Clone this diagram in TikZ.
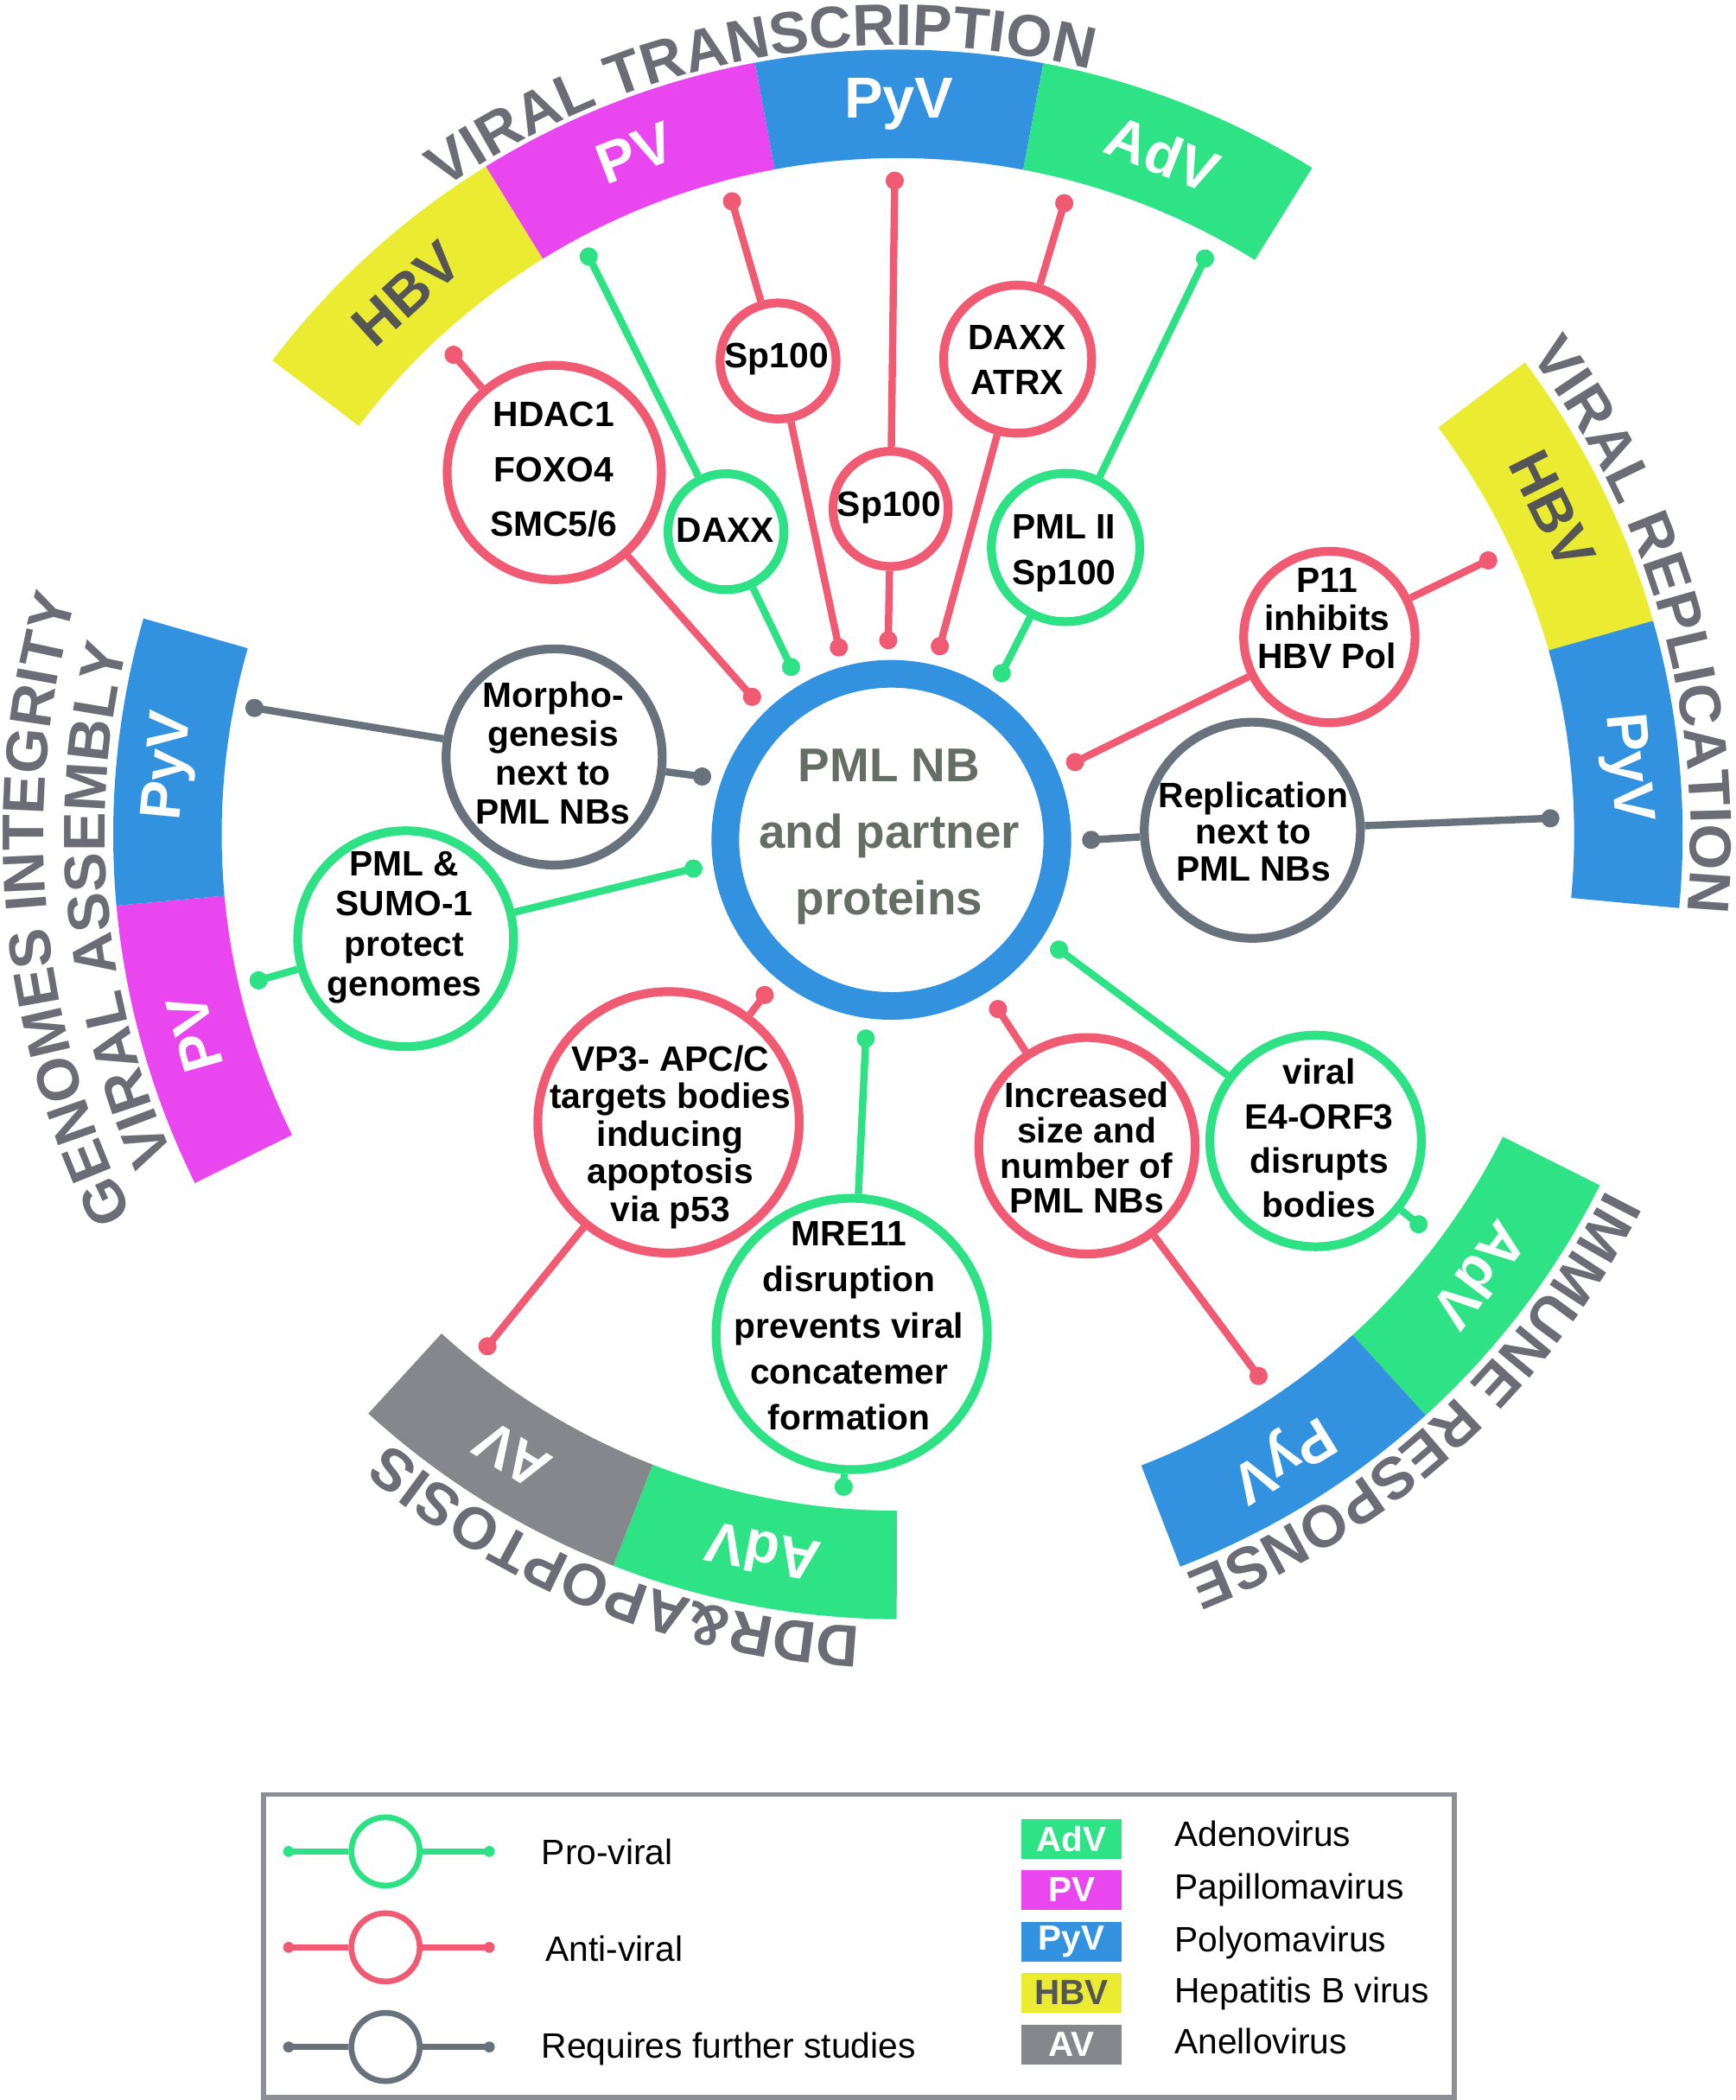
\documentclass[tikz,border=0pt]{standalone}
\usepackage{fontspec}
\setmainfont{Liberation Sans}
\usetikzlibrary{decorations.text}

\definecolor{pgreen}{RGB}{44,226,132}
\definecolor{pred}{RGB}{240,91,115}
\definecolor{pgray}{RGB}{104,114,124}
\definecolor{bblue}{RGB}{50,146,224}
\definecolor{bmag}{RGB}{233,70,240}
\definecolor{byel}{RGB}{235,235,50}
\definecolor{bgrn}{RGB}{46,226,134}
\definecolor{bav}{RGB}{134,135,140}
\definecolor{ttl}{RGB}{108,108,118}
\definecolor{hbvtxt}{RGB}{85,85,88}
\definecolor{pmltxt}{RGB}{100,110,100}
\definecolor{legbord}{RGB}{140,143,148}

\newcommand\TitleFont{\fontsize{19.4pt}{20pt}\selectfont\bfseries}
\newcommand\Seg[3]{\fill[#3] (#1:505) arc[start angle=#1, end angle=#2, radius=505] -- (#2:586) arc[start angle=#2, end angle=#1, radius=586] -- cycle;}
\newcommand\ArcTitle[4]{\path[decorate, decoration={text along path, text align=center, text color=ttl, text={|\TitleFont|#4}}] (#2:#1) arc[start angle=#2, end angle=#3, radius=#1];}

\begin{document}
\begin{tikzpicture}[x=0.15494mm, y=0.15494mm,
  satc/.style 2 args={circle, draw=#1, line width=2.9pt, minimum size=#2*0.30988mm, inner sep=0pt},
  dotn/.style={circle, fill=#1, inner sep=0pt, minimum size=6pt},
  conn/.style={draw=#1, line width=2.4pt},
  ctext/.style={align=center, inner sep=0pt, text=black, font=\fontsize{11.6pt}{#1}\selectfont\bfseries},
  blabel/.style={font=\fontsize{19pt}{20pt}\selectfont\bfseries, text=#1, inner sep=0pt},
  legdot/.style={circle, fill=#1, inner sep=0pt, minimum size=3.6pt},
  legline/.style={draw=#1, line width=1.8pt},
  legtext/.style={font=\fontsize{11.6pt}{13pt}\selectfont, text=black, inner sep=0pt, anchor=base west},
  legbox/.style={fill=#1, minimum width=74.5*0.15494mm, minimum height=29.7*0.15494mm, inner sep=0pt, text=white, font=\fontsize{11.5pt}{12pt}\selectfont\bfseries}
]
\fill[white] (0,0) rectangle (1296,-1568);
\useasboundingbox (0,0) rectangle (1296,-1568);

% ---------- outer bands ----------
\begin{scope}[shift={(670.5,-623)}]
\Seg{142.85}{121.67}{byel}
\Seg{121.67}{100.50}{bmag}
\Seg{100.50}{79.32}{bblue}
\Seg{79.32}{58.14}{bgrn}
\Seg{36.97}{15.79}{byel}
\Seg{15.79}{-5.39}{bblue}
\Seg{-26.56}{-47.74}{bgrn}
\Seg{-47.74}{-68.91}{bblue}
\Seg{-90.09}{-111.27}{bgrn}
\Seg{-111.27}{-132.44}{bav}
\Seg{-153.62}{-174.79}{bmag}
\Seg{-174.79}{-195.97}{bblue}
\node[blabel=hbvtxt, rotate=42.26] (bHBVt) at (132.26:545.5) {HBV};
\node[blabel=white, rotate=21.09] (bPVt) at (111.09:545.5) {PV};
\node[blabel=white, rotate=-0.09] (bPyVt) at (89.91:545.5) {PyV};
\node[blabel=white, rotate=-21.27] (bAdVt) at (68.73:545.5) {AdV};
\node[blabel=hbvtxt, rotate=-63.62] (bHBVr) at (26.38:545.5) {HBV};
\node[blabel=white, rotate=-84.8] (bPyVr) at (5.2:545.5) {PyV};
\node[blabel=white, rotate=-127.15] (bAdVbr) at (-37.15:545.5) {AdV};
\node[blabel=white, rotate=-148.33] (bPyVbr) at (-58.33:545.5) {PyV};
\node[blabel=white, rotate=-190.68] (bAdVbl) at (-100.68:545.5) {AdV};
\node[blabel=white, rotate=-211.86] (bAVbl) at (-121.86:545.5) {AV};
\node[blabel=white, rotate=-254.21] (bPVl) at (-164.21:545.5) {PV};
\node[blabel=white, rotate=-275.38] (bPyVl) at (-185.38:545.5) {PyV};
% titles
\ArcTitle{589}{140.5}{60.5}{VIRAL TRANSCRIPTION}
\ArcTitle{592}{55.8}{-24.2}{VIRAL REPLICATION}
\ArcTitle{592}{-7.7}{-87.7}{IMMUNE RESPONSE}
\ArcTitle{592}{288.7}{208.7}{DDR{\&}APOPTOSIS}
\ArcTitle{592}{225.2}{145.2}{VIRAL ASSEMBLY}
\ArcTitle{638}{225.2}{145.2}{GENOMES INTEGRITY}
\end{scope}

% ---------- central body ----------
\node[circle, draw=bblue, line width=9.1pt, minimum size=248*0.15494mm, inner sep=0pt] (pml) at (665.6,-627.1) {};
\node[align=center, font=\fontsize{15.6pt}{21.9pt}\selectfont\bfseries, text=pmltxt, inner sep=0pt] (pmlt) at (664,-624.8) {PML NB\\and partner\\proteins};

% ---------- satellite circles ----------
\node[satc={pred}{80}] (c1) at (413.9,-352.8) {};
\node[ctext=18pt] (t1) at (413.5,-350.5) {HDAC1\\FOXO4\\SMC5/6};
\node[satc={pgreen}{43.3}] (c2) at (542.1,-397) {};
\node[ctext=13pt] (t2) at (541.7,-396) {DAXX};
\node[satc={pred}{43.3}] (c3) at (581,-269.5) {};
\node[ctext=13pt] (t3) at (580,-268) {Sp100};
\node[satc={pred}{43}] (c4) at (665,-380) {};
\node[ctext=13pt] (t4) at (664,-379) {Sp100};
\node[satc={pred}{55.3}] (c5) at (759.9,-268.2) {};
\node[ctext=14.6pt] (t5) at (759.5,-268.7) {DAXX\\ATRX};
\node[satc={pgreen}{55.4}] (c6) at (795.7,-408.8) {};
\node[ctext=15.2pt] (t6) at (794.5,-413) {PML II\\Sp100};
\node[satc={pred}{64}] (c7) at (992.7,-475.6) {};
\node[ctext=12.5pt] (t7) at (991,-462) {P11\\inhibits\\HBV Pol};
\node[satc={pgray}{80.7}] (c8) at (935.2,-619.9) {};
\node[ctext=12.1pt] (t8) at (936,-621) {Replication\\next to\\PML NBs};
\node[satc={pgray}{80.7}] (c9) at (413.8,-565.2) {};
\node[ctext=12.8pt] (t9) at (413,-562) {Morpho-\\genesis\\next to\\PML NBs};
\node[satc={pgreen}{80.6}] (c10) at (302.9,-700.9) {};
\node[ctext=13.1pt] (t10) at (302,-692.5) {PML \&\\SUMO-1\\protect\\genomes};
\node[satc={pred}{97.6}] (c11) at (499.2,-838) {};
\node[ctext=12.4pt] (t11) at (500.5,-849) {VP3- APC/C\\targets bodies\\inducing\\apoptosis\\via p53};
\node[satc={pgreen}{101.3}] (c12) at (636,-996) {};
\node[ctext=15.2pt] (t12) at (634,-990) {MRE11\\disruption\\prevents viral\\concatemer\\formation};
\node[satc={pred}{80.8}] (c13) at (811.7,-855.5) {};
\node[ctext=11.6pt] (t13) at (811.5,-857) {Increased\\size and\\number of\\PML NBs};
\node[satc={pgreen}{79}] (c14) at (982.4,-851.9) {};
\node[ctext=14.6pt] (t14) at (985,-850) {viral\\E4-ORF3\\disrupts\\bodies};

% ---------- pin dots ----------
\node[dotn=pred] (o1) at (338.7,-264.9) {};   \node[dotn=pred] (i1) at (561.6,-520.3) {};
\node[dotn=pgreen] (o2) at (439.6,-191.5) {}; \node[dotn=pgreen] (i2) at (590.7,-498) {};
\node[dotn=pred] (o3) at (546.6,-150.3) {};   \node[dotn=pred] (i3) at (626.4,-483.4) {};
\node[dotn=pred] (o4) at (668.1,-134.9) {};   \node[dotn=pred] (i4) at (663.3,-478) {};
\node[dotn=pred] (o5) at (794.7,-151.7) {};   \node[dotn=pred] (i5) at (701.8,-482.5) {};
\node[dotn=pgreen] (o6) at (899.8,-193) {};   \node[dotn=pgreen] (i6) at (748,-502.6) {};
\node[dotn=pred] (o7) at (1111.3,-418.4) {};  \node[dotn=pred] (i7) at (802.8,-569) {};
\node[dotn=pgray] (o8) at (1157.7,-611) {};   \node[dotn=pgray] (i8) at (814.8,-627.1) {};
\node[dotn=pgray] (o9) at (190,-528.6) {};    \node[dotn=pgray] (i9) at (524.3,-579.8) {};
\node[dotn=pgreen] (o10) at (193.1,-732) {};  \node[dotn=pgreen] (i10) at (517.8,-648.5) {};
\node[dotn=pred] (o11) at (364,-1005.2) {};   \node[dotn=pred] (i11) at (571,-742.9) {};
\node[dotn=pgreen] (o12) at (630,-1110.1) {}; \node[dotn=pgreen] (i12) at (646.5,-775.4) {};
\node[dotn=pred] (o13) at (939.8,-1027.4) {}; \node[dotn=pred] (i13) at (745.2,-753.4) {};
\node[dotn=pgreen] (o14) at (1059.3,-914.1) {}; \node[dotn=pgreen] (i14) at (790.8,-709) {};

% ---------- connectors ----------
\draw[conn=pred] (o1.center) -- (c1); \draw[conn=pred] (c1) -- (i1.center);
\draw[conn=pgreen] (o2.center) -- (c2); \draw[conn=pgreen] (c2) -- (i2.center);
\draw[conn=pred] (o3.center) -- (c3); \draw[conn=pred] (c3) -- (i3.center);
\draw[conn=pred] (o4.center) -- (c4); \draw[conn=pred] (c4) -- (i4.center);
\draw[conn=pred] (o5.center) -- (c5); \draw[conn=pred] (c5) -- (i5.center);
\draw[conn=pgreen] (o6.center) -- (c6); \draw[conn=pgreen] (c6) -- (i6.center);
\draw[conn=pred] (o7.center) -- (c7); \draw[conn=pred] (c7) -- (i7.center);
\draw[conn=pgray] (o8.center) -- (c8); \draw[conn=pgray] (c8) -- (i8.center);
\draw[conn=pgray] (o9.center) -- (c9); \draw[conn=pgray] (c9) -- (i9.center);
\draw[conn=pgreen] (o10.center) -- (c10); \draw[conn=pgreen] (c10) -- (i10.center);
\draw[conn=pred] (o11.center) -- (c11); \draw[conn=pred] (c11) -- (i11.center);
\draw[conn=pgreen] (o12.center) -- (c12); \draw[conn=pgreen] (c12) -- (i12.center);
\draw[conn=pred] (o13.center) -- (c13); \draw[conn=pred] (c13) -- (i13.center);
\draw[conn=pgreen] (o14.center) -- (c14); \draw[conn=pgreen] (c14) -- (i14.center);

% ---------- legend ----------
\draw[legbord, line width=1.6pt] (197,-1340) rectangle (1086,-1566);

\node[satc={pgreen}{25.5}, line width=1.9pt] (lgc1) at (287.9,-1382.4) {};
\node[legdot=pgreen] (lgl1) at (215.5,-1382.4) {};
\node[legdot=pgreen] (lgr1) at (365.4,-1382.4) {};
\draw[legline=pgreen] (lgl1.center) -- (lgc1);
\draw[legline=pgreen] (lgc1) -- (lgr1.center);
\node[legtext] (lgt1) at (404,-1392.3) {Pro-viral};

\node[satc={pred}{25.5}, line width=1.9pt] (lgc2) at (287.9,-1454) {};
\node[legdot=pred] (lgl2) at (215.5,-1454) {};
\node[legdot=pred] (lgr2) at (365.4,-1454) {};
\draw[legline=pred] (lgl2.center) -- (lgc2);
\draw[legline=pred] (lgc2) -- (lgr2.center);
\node[legtext] (lgt2) at (407,-1464.4) {Anti-viral};

\node[satc={pgray}{25.5}, line width=1.9pt] (lgc3) at (287.9,-1528.4) {};
\node[legdot=pgray] (lgl3) at (215.5,-1528.4) {};
\node[legdot=pgray] (lgr3) at (365.4,-1528.4) {};
\draw[legline=pgray] (lgl3.center) -- (lgc3);
\draw[legline=pgray] (lgc3) -- (lgr3.center);
\node[legtext] (lgt3) at (404,-1536.5) {Requires further studies};

\node[legbox=bgrn] (lbA) at (800.2,-1373.2) {AdV};
\node[legbox=bmag] (lbP) at (800.2,-1410.9) {PV};
\node[legbox=bblue] (lbY) at (800.2,-1449.8) {PyV};
\node[legbox=byel, text=hbvtxt] (lbH) at (800.2,-1488) {HBV};
\node[legbox=bav] (lbV) at (800.2,-1526.5) {AV};
\node[legtext] (ltA) at (876.7,-1378.9) {Adenovirus};
\node[legtext] (ltP) at (876.7,-1418) {Papillomavirus};
\node[legtext] (ltY) at (876.7,-1457.2) {Polyomavirus};
\node[legtext] (ltH) at (876.7,-1495.6) {Hepatitis B virus};
\node[legtext] (ltV) at (876.7,-1533.2) {Anellovirus};
\end{tikzpicture}
\end{document}
